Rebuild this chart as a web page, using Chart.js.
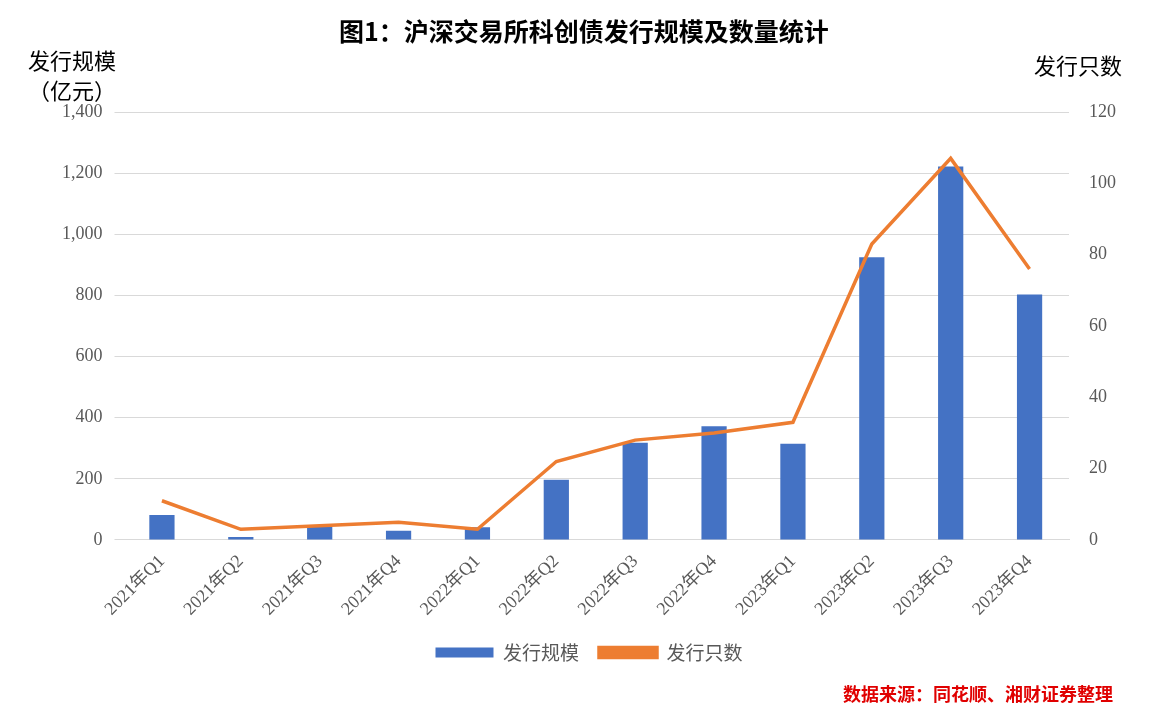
<!DOCTYPE html>
<html><head><meta charset="utf-8">
<script src="https://cdn.jsdelivr.net/npm/chart.js@4"></script>
<style>
body{margin:0;background:#fff;font-family:"Noto Sans CJK SC";}
#wrap{position:relative;width:1168px;height:720px;}
.t{position:absolute;color:#000;}
</style></head><body>
<div id="wrap">
<canvas id="c" width="1168" height="720"></canvas>
<div class="t" style="left:0;width:1168px;top:12px;text-align:center;font-size:25px;font-weight:bold;">图1：沪深交易所科创债发行规模及数量统计</div>
<div class="t" style="left:28px;top:44px;font-size:22px;line-height:30px;text-align:center;">发行规模<br>（亿元）</div>
<div class="t" style="left:1034px;top:48px;font-size:22px;">发行只数</div>
<div class="t" style="right:55px;top:680px;font-size:18px;color:#e00000;font-weight:bold;">数据来源：同花顺、湘财证券整理</div>
</div>
<script>
const categories=["2021年Q1","2021年Q2","2021年Q3","2021年Q4","2022年Q1","2022年Q2","2022年Q3","2022年Q4","2023年Q1","2023年Q2","2023年Q3","2023年Q4"];
const scaleValues=[82,10,45,30,42,197,318,372,315,925,1222,803];
const countValues=[11,3,4,5,3,22,28,30,33,83,107,76];
Chart.defaults.font.family='"Liberation Serif","Noto Sans CJK SC"';
Chart.defaults.color='#595959';
new Chart(document.getElementById('c'),{
data:{labels:categories,datasets:[
{type:'line',label:'发行只数',data:countValues,yAxisID:'y1',borderColor:'#ED7D31',backgroundColor:'#ED7D31',borderWidth:3.5,pointRadius:0,tension:0,order:0},
{type:'bar',label:'发行规模',data:scaleValues,yAxisID:'y',backgroundColor:'#4472C4',barPercentage:0.32,categoryPercentage:1,order:1}
]},
options:{responsive:false,animation:false,
layout:{padding:{left:50,right:40,top:112,bottom:48}},
plugins:{legend:{position:'bottom',reverse:true,labels:{boxWidth:58,boxHeight:10,font:{size:19,family:'"Noto Sans CJK SC"'},color:'#595959',padding:20}},tooltip:{enabled:false}},
scales:{
x:{grid:{display:false},border:{color:'#d9d9d9'},ticks:{maxRotation:45,minRotation:45,font:{size:18},color:'#595959'}},
y:{position:'left',min:0,max:1400,ticks:{stepSize:200,font:{size:18},padding:12},grid:{color:'#d9d9d9'},border:{display:false}},
y1:{position:'right',min:0,max:120,ticks:{stepSize:20,font:{size:18},padding:12},grid:{display:false},border:{display:false}}
}}
});
</script></body></html>
